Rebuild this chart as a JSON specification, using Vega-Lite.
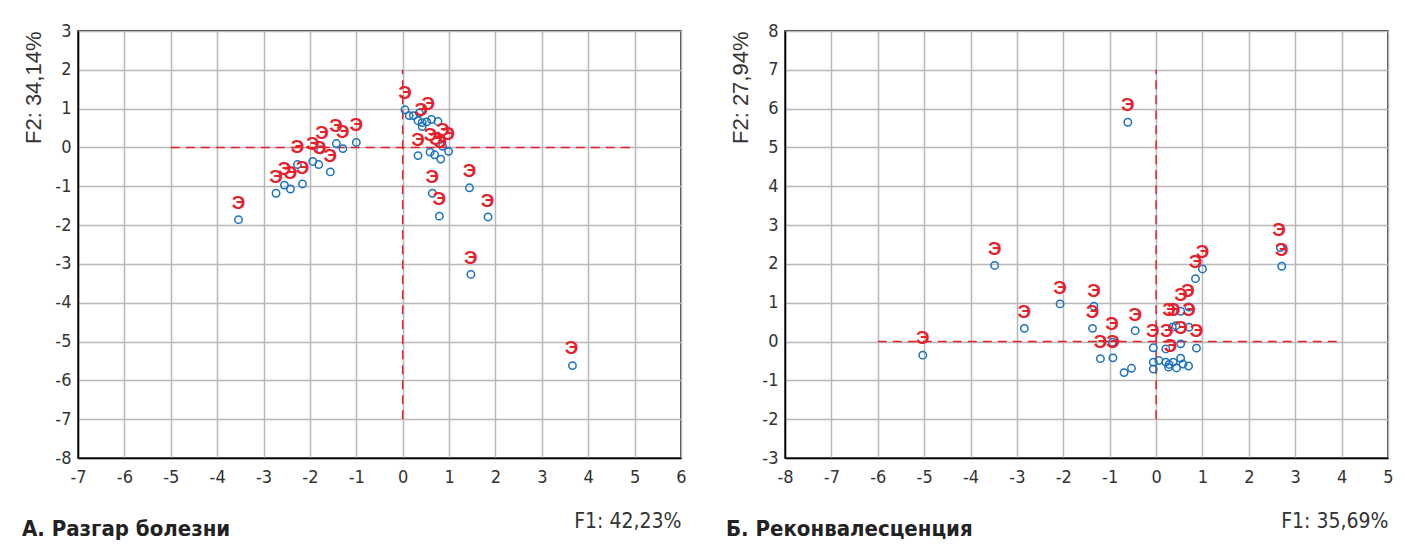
{
  "$schema": "https://vega.github.io/schema/vega-lite/v6.json",
  "background": "white",
  "padding": {"left": 21, "top": 21, "right": 0, "bottom": 0},
  "bounds": "flush",
  "spacing": 104,
  "config": {
    "view": {"stroke": "#000000", "strokeWidth": 1.5},
    "axis": {
      "labelFont": "DejaVu Sans Condensed, Liberation Sans",
      "labelFontSize": 18,
      "labelColor": "#333333",
      "labelOverlap": false,
      "labelFlush": false,
      "labelBound": false,
      "labelExpr": "toString(datum.value)",
      "ticks": false,
      "gridColor": "#b8b8b8",
      "gridWidth": 1.5,
      "domainColor": "#000000",
      "domainWidth": 1.5,
      "titleColor": "#333333",
      "titleFontWeight": "normal"
    }
  },
  "datasets": {
    "ptsA": [
      {"x": -3.54, "y": -1.86}, {"x": -2.73, "y": -1.18}, {"x": -2.55, "y": -0.97}, {"x": -2.42, "y": -1.07},
      {"x": -2.27, "y": -0.44}, {"x": -2.16, "y": -0.94}, {"x": -1.94, "y": -0.36}, {"x": -1.81, "y": -0.44},
      {"x": -1.77, "y": -0.06}, {"x": -1.56, "y": -0.63}, {"x": -1.43, "y": 0.10}, {"x": -1.29, "y": -0.03},
      {"x": -1.00, "y": 0.13}, {"x": 0.05, "y": 0.97}, {"x": 0.14, "y": 0.82}, {"x": 0.23, "y": 0.82},
      {"x": 0.36, "y": 0.89}, {"x": 0.33, "y": 0.69}, {"x": 0.42, "y": 0.64}, {"x": 0.42, "y": 0.54},
      {"x": 0.52, "y": 0.66}, {"x": 0.62, "y": 0.72}, {"x": 0.76, "y": 0.67}, {"x": 0.33, "y": -0.21},
      {"x": 0.59, "y": -0.12}, {"x": 0.69, "y": -0.19}, {"x": 0.82, "y": -0.30}, {"x": 0.99, "y": -0.10},
      {"x": 0.86, "y": 0.03}, {"x": 1.44, "y": -1.04}, {"x": 0.64, "y": -1.18}, {"x": 0.79, "y": -1.77},
      {"x": 1.47, "y": -3.27}, {"x": 1.84, "y": -1.79}, {"x": 3.66, "y": -5.62}
    ],
    "labA": [
      {"x": -3.54, "y": -1.42, "t": "Э"}, {"x": -2.73, "y": -0.77, "t": "Э"}, {"x": -2.55, "y": -0.55, "t": "Э"},
      {"x": -2.42, "y": -0.66, "t": "Э"}, {"x": -2.16, "y": -0.54, "t": "Э"}, {"x": -2.27, "y": 0.0, "t": "Э"},
      {"x": -1.94, "y": 0.09, "t": "Э"}, {"x": -1.79, "y": -0.02, "t": "Э"}, {"x": -1.74, "y": 0.37, "t": "Э"},
      {"x": -1.56, "y": -0.21, "t": "Э"}, {"x": -1.44, "y": 0.54, "t": "Э"}, {"x": -1.29, "y": 0.41, "t": "Э"},
      {"x": -1.00, "y": 0.57, "t": "Э"}, {"x": 0.05, "y": 1.39, "t": "Э"}, {"x": 0.55, "y": 1.11, "t": "Э"},
      {"x": 0.40, "y": 0.97, "t": "Э"}, {"x": 0.33, "y": 0.20, "t": "Э"}, {"x": 0.60, "y": 0.33, "t": "Э"},
      {"x": 0.72, "y": 0.21, "t": "Э"}, {"x": 0.87, "y": 0.44, "t": "Э"}, {"x": 0.98, "y": 0.34, "t": "Э"},
      {"x": 0.81, "y": 0.14, "t": "Э"}, {"x": 0.64, "y": -0.75, "t": "Э"}, {"x": 0.79, "y": -1.34, "t": "Э"},
      {"x": 1.44, "y": -0.60, "t": "Э"}, {"x": 1.47, "y": -2.85, "t": "Э"}, {"x": 1.83, "y": -1.37, "t": "Э"},
      {"x": 3.64, "y": -5.17, "t": "Э"}
    ],
    "hA": [{"x": -5, "x2": 5, "y": 0}],
    "vA": [{"x": 0, "y": -7, "y2": 2}],
    "ptsB": [
      {"x": -0.61, "y": 5.65}, {"x": -3.48, "y": 1.96}, {"x": -5.03, "y": -0.35}, {"x": -2.84, "y": 0.34},
      {"x": -2.07, "y": 0.97}, {"x": -1.34, "y": 0.91}, {"x": -1.37, "y": 0.34}, {"x": -0.45, "y": 0.28},
      {"x": -1.20, "y": -0.44}, {"x": -0.93, "y": -0.42}, {"x": -0.69, "y": -0.80}, {"x": -0.53, "y": -0.69},
      {"x": -0.94, "y": -0.02}, {"x": 2.68, "y": 2.42}, {"x": 2.71, "y": 1.94}, {"x": 1.00, "y": 1.87},
      {"x": 0.85, "y": 1.62}, {"x": 0.53, "y": 0.78}, {"x": 0.71, "y": 0.89}, {"x": 0.35, "y": 0.37},
      {"x": 0.43, "y": 0.41}, {"x": 0.71, "y": 0.37}, {"x": -0.06, "y": -0.16}, {"x": 0.21, "y": -0.19},
      {"x": 0.53, "y": -0.06}, {"x": 0.87, "y": -0.17}, {"x": -0.06, "y": -0.53}, {"x": -0.06, "y": -0.71},
      {"x": 0.06, "y": -0.49}, {"x": 0.21, "y": -0.53}, {"x": 0.28, "y": -0.59}, {"x": 0.27, "y": -0.66},
      {"x": 0.37, "y": -0.53}, {"x": 0.44, "y": -0.68}, {"x": 0.53, "y": -0.43}, {"x": 0.58, "y": -0.58},
      {"x": 0.70, "y": -0.63}
    ],
    "labB": [
      {"x": -0.61, "y": 6.09, "t": "Э"}, {"x": -3.48, "y": 2.39, "t": "Э"}, {"x": -5.03, "y": 0.10, "t": "Э"},
      {"x": -2.84, "y": 0.77, "t": "Э"}, {"x": -2.07, "y": 1.38, "t": "Э"}, {"x": -1.34, "y": 1.31, "t": "Э"},
      {"x": -1.37, "y": 0.77, "t": "Э"}, {"x": -0.45, "y": 0.68, "t": "Э"}, {"x": -0.95, "y": 0.46, "t": "Э"},
      {"x": -1.20, "y": 0.0, "t": "Э"}, {"x": -0.93, "y": 0.0, "t": "Э"}, {"x": 2.65, "y": 2.87, "t": "Э"},
      {"x": 2.71, "y": 2.36, "t": "Э"}, {"x": 1.00, "y": 2.30, "t": "Э"}, {"x": 0.85, "y": 2.06, "t": "Э"},
      {"x": 0.54, "y": 1.21, "t": "Э"}, {"x": 0.69, "y": 1.31, "t": "Э"}, {"x": 0.28, "y": 0.80, "t": "Э"},
      {"x": 0.38, "y": 0.80, "t": "Э"}, {"x": 0.71, "y": 0.80, "t": "Э"}, {"x": -0.07, "y": 0.28, "t": "Э"},
      {"x": 0.23, "y": 0.28, "t": "Э"}, {"x": 0.54, "y": 0.36, "t": "Э"}, {"x": 0.87, "y": 0.26, "t": "Э"},
      {"x": 0.31, "y": -0.11, "t": "Э"}
    ],
    "hB": [{"x": -6, "x2": 4, "y": 0}],
    "vB": [{"x": 0, "y": -2, "y2": 7}]
  },
  "hconcat": [
    {
      "width": 603,
      "height": 427,
      "title": {"text": "А. Разгар болезни", "orient": "bottom", "anchor": "start", "frame": "group", "dx": -56, "offset": -12, "font": "DejaVu Sans Condensed, Liberation Sans", "fontSize": 22, "fontWeight": "bold", "color": "#222222"},
      "encoding": {
        "x": {"field": "x", "type": "quantitative", "scale": {"domain": [-7, 6], "nice": false, "zero": false},
          "axis": {"values": [-7, -6, -5, -4, -3, -2, -1, 0, 1, 2, 3, 4, 5, 6], "title": "F1: 42,23%", "titleAnchor": "end", "titleFont": "DejaVu Sans Condensed, Liberation Sans", "titleFontSize": 21, "titlePadding": 24, "labelPadding": 10}},
        "y": {"field": "y", "type": "quantitative", "scale": {"domain": [-8, 3], "nice": false, "zero": false},
          "axis": {"values": [-8, -7, -6, -5, -4, -3, -2, -1, 0, 1, 2, 3], "title": "F2: 34,14%", "titleAnchor": "end", "titleFont": "Liberation Sans, Arial", "titleFontSize": 22, "titlePadding": 9, "labelPadding": 7}}
      },
      "layer": [
        {
          "data": {"name": "hA"},
          "mark": {"type": "rule", "color": "#e8202a", "strokeWidth": 1.5, "strokeDash": [9, 6]},
          "encoding": {"x2": {"field": "x2"}}
        },
        {
          "data": {"name": "vA"},
          "mark": {"type": "rule", "color": "#e8202a", "strokeWidth": 1.5, "strokeDash": [9, 6]},
          "encoding": {"y2": {"field": "y2"}}
        },
        {
          "data": {"name": "ptsA"},
          "mark": {"type": "point", "shape": "circle", "filled": false, "color": "#1b72bf", "strokeWidth": 1.5, "size": 55, "opacity": 1},
          "encoding": {}
        },
        {
          "data": {"name": "labA"},
          "mark": {"type": "text", "color": "#e8202a", "font": "Liberation Sans", "fontWeight": "bold", "fontSize": 19, "baseline": "middle", "align": "center"},
          "encoding": {"text": {"field": "t"}}
        }
      ]
    },
    {
      "width": 603,
      "height": 427,
      "title": {"text": "Б. Реконвалесценция", "orient": "bottom", "anchor": "start", "frame": "group", "dx": -59, "offset": -12, "font": "DejaVu Sans Condensed, Liberation Sans", "fontSize": 22, "fontWeight": "bold", "color": "#222222"},
      "encoding": {
        "x": {"field": "x", "type": "quantitative", "scale": {"domain": [-8, 5], "nice": false, "zero": false},
          "axis": {"values": [-8, -7, -6, -5, -4, -3, -2, -1, 0, 1, 2, 3, 4, 5], "title": "F1: 35,69%", "titleAnchor": "end", "titleFont": "DejaVu Sans Condensed, Liberation Sans", "titleFontSize": 21, "titlePadding": 24, "labelPadding": 10}},
        "y": {"field": "y", "type": "quantitative", "scale": {"domain": [-3, 8], "nice": false, "zero": false},
          "axis": {"values": [-3, -2, -1, 0, 1, 2, 3, 4, 5, 6, 7, 8], "title": "F2: 27,94%", "titleAnchor": "end", "titleFont": "Liberation Sans, Arial", "titleFontSize": 22, "titlePadding": 9, "labelPadding": 7}}
      },
      "layer": [
        {
          "data": {"name": "hB"},
          "mark": {"type": "rule", "color": "#e8202a", "strokeWidth": 1.5, "strokeDash": [9, 6]},
          "encoding": {"x2": {"field": "x2"}}
        },
        {
          "data": {"name": "vB"},
          "mark": {"type": "rule", "color": "#e8202a", "strokeWidth": 1.5, "strokeDash": [9, 6]},
          "encoding": {"y2": {"field": "y2"}}
        },
        {
          "data": {"name": "ptsB"},
          "mark": {"type": "point", "shape": "circle", "filled": false, "color": "#1b72bf", "strokeWidth": 1.5, "size": 55, "opacity": 1},
          "encoding": {}
        },
        {
          "data": {"name": "labB"},
          "mark": {"type": "text", "color": "#e8202a", "font": "Liberation Sans", "fontWeight": "bold", "fontSize": 19, "baseline": "middle", "align": "center"},
          "encoding": {"text": {"field": "t"}}
        }
      ]
    }
  ]
}
